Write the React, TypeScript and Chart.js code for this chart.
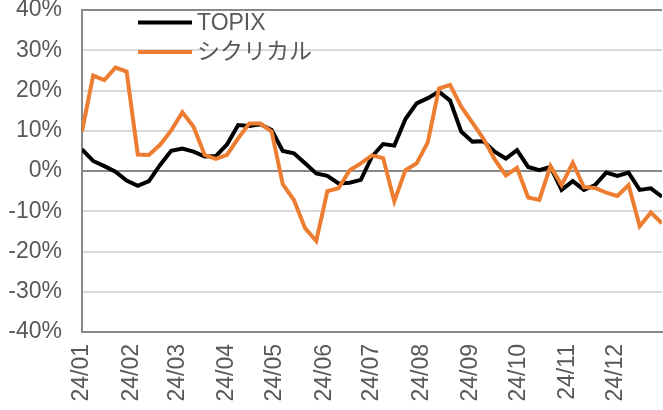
import React, { useEffect, useRef } from 'react';
import { Chart, registerables } from 'chart.js';

Chart.register(...registerables);

// ---- data ----
const firstWeek = '2024-01-01';
const monthLabels = ['24/01', '24/02', '24/03', '24/04', '24/05', '24/06', '24/07', '24/08', '24/09', '24/10', '24/11', '24/12'];
const monthStarts = ['2024-01-01', '2024-02-01', '2024-03-01', '2024-04-01', '2024-05-01', '2024-06-01', '2024-07-01', '2024-08-01', '2024-09-01', '2024-10-01', '2024-11-01', '2024-12-01'];
const seriesNames = ['TOPIX', 'シクリカル'];
const topix = [5.4, 2.5, 1.2, -0.2, -2.4, -3.7, -2.5, 1.5, 5.0, 5.6, 4.8, 3.6, 3.7, 6.6, 11.4, 11.2, 11.6, 10.2, 5.0, 4.4, 1.9, -0.6, -1.2, -3.1, -2.9, -2.2, 3.6, 6.7, 6.3, 12.9, 16.8, 18.1, 19.7, 17.5, 9.8, 7.3, 7.4, 4.8, 3.1, 5.2, 1.0, 0.2, 1.0, -4.7, -2.5, -4.7, -3.5, -0.4, -1.2, -0.4, -4.7, -4.3, -6.4];
const cyclical = [9.8, 23.7, 22.6, 25.7, 24.7, 4.1, 4.0, 6.5, 10.1, 14.6, 11.0, 4.0, 3.0, 4.0, 8.1, 11.8, 11.8, 9.8, -3.3, -7.2, -14.2, -17.4, -5.0, -4.3, 0.2, 1.9, 3.9, 3.2, -7.5, 0.2, 1.9, 7.1, 20.5, 21.4, 16.0, 12.0, 8.0, 2.9, -1.1, 0.8, -6.6, -7.2, 1.2, -3.5, 2.0, -4.0, -4.2, -5.4, -6.2, -3.5, -13.7, -10.3, -13.0];
const yMin = -40;
const yMax = 40;
const yStep = 10;

const DAY = 86400000;
const t0 = Date.parse(firstWeek);
const dayOf = (s: string) => Math.round((Date.parse(s) - t0) / DAY);
const weekDays = topix.map((_, i) => i * 7);
const monthDays = monthStarts.map(dayOf);

const FONT = "'Liberation Sans', Arial, 'Noto Sans CJK JP', sans-serif";
const TEXT = '#595959';
const COLORS = ['#000000', '#ED7D31'];

const legendPlugin = {
  id: 'inlineLegend',
  afterDraw(chart: any) {
    const { ctx, chartArea } = chart;
    chart.data.datasets.forEach((ds: any, i: number) => {
      const y = chartArea.top + 12.5 + i * 29.5;
      const x0 = chartArea.left + 56;
      ctx.save();
      ctx.strokeStyle = ds.borderColor;
      ctx.lineWidth = 4;
      ctx.beginPath();
      ctx.moveTo(x0, y);
      ctx.lineTo(x0 + 54, y);
      ctx.stroke();
      ctx.fillStyle = TEXT;
      ctx.font = `23px ${FONT}`;
      ctx.textBaseline = 'middle';
      ctx.textAlign = 'left';
      ctx.fillText(ds.label, x0 + 59, y + 1);
      ctx.restore();
    });
  },
};

export default function App() {
  const ref = useRef<HTMLCanvasElement | null>(null);

  useEffect(() => {
    document.body.style.margin = '0';
    const canvas = ref.current;
    if (!canvas) return;
    const series = [topix, cyclical];
    const chart = new Chart(canvas, {
      type: 'line',
      data: {
        datasets: series.map((vals, k) => ({
          label: seriesNames[k],
          data: vals.map((v, i) => ({ x: weekDays[i], y: v })),
          borderColor: COLORS[k],
          backgroundColor: COLORS[k],
          borderWidth: 4,
          pointRadius: 0,
          tension: 0,
          fill: false,
          order: k === 0 ? 1 : 0,
        })),
      },
      options: {
        responsive: false,
        animation: false,
        events: [],
        layout: { padding: { top: 10, right: 1, left: 0, bottom: 0 } },
        plugins: {
          legend: { display: false },
          tooltip: { enabled: false },
        },
        scales: {
          x: {
            type: 'linear',
            min: 0,
            max: weekDays[weekDays.length - 1],
            grid: { drawOnChartArea: false, drawTicks: false },
            border: { display: true, color: '#898989', width: 2 },
            afterBuildTicks: (scale: any) => {
              scale.ticks = monthDays.map((v) => ({ value: v }));
            },
            afterFit: (scale: any) => {
              scale.height = 78;
              scale.paddingLeft = 0;
              scale.paddingRight = 0;
            },
            ticks: {
              autoSkip: false,
              maxRotation: 90,
              minRotation: 90,
              padding: 12,
              color: TEXT,
              font: { family: FONT, size: 23 },
              callback: (_v: any, idx: number) => monthLabels[idx],
            },
          },
          y: {
            min: yMin,
            max: yMax,
            grid: {
              drawTicks: false,
              lineWidth: 2,
              color: (ctx: any) => {
                const v = ctx.tick?.value;
                return v === 0 || v === yMax || v === yMin ? '#898989' : '#d9d9d9';
              },
            },
            border: { display: true, color: '#898989', width: 2 },
            afterFit: (scale: any) => {
              scale.width = 82;
              scale.paddingTop = 0;
              scale.paddingBottom = 0;
            },
            ticks: {
              stepSize: yStep,
              padding: 20,
              color: TEXT,
              font: { family: FONT, size: 23 },
              callback: (v: any) => `${v}%`,
            },
          },
        },
      },
      plugins: [legendPlugin],
    } as any);
    return () => chart.destroy();
  }, []);

  return (
    <div style={{ position: 'fixed', left: 0, top: 0, width: 663, height: 410, background: '#fff' }}>
      <canvas ref={ref} width={663} height={410} style={{ display: 'block' }} />
    </div>
  );
}
